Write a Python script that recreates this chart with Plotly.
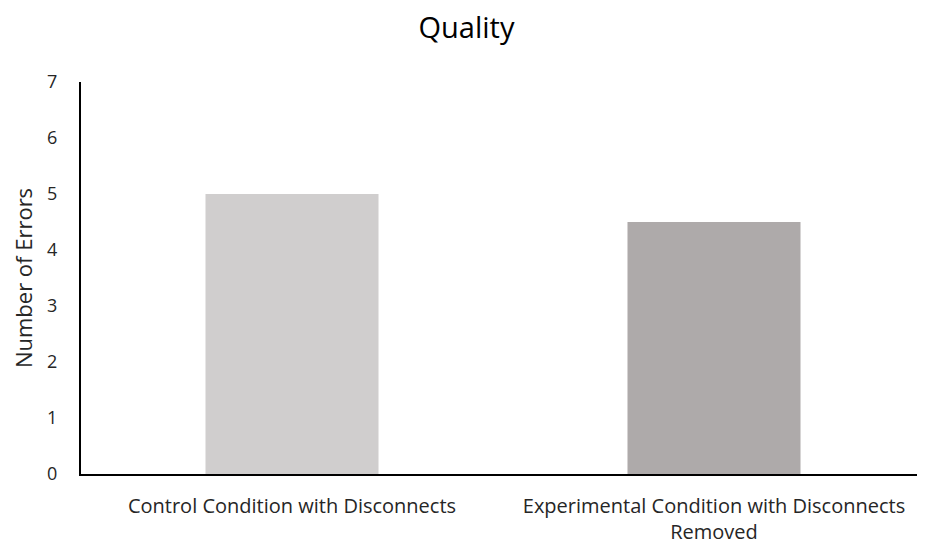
import plotly.graph_objects as go

categories = ["Control Condition with Disconnects", "Experimental Condition with Disconnects<br>Removed"]
values = [5.0, 4.5]
colors = ["#D0CECE", "#AEAAAA"]
y_ticks = [0, 1, 2, 3, 4, 5, 6, 7]

fig = go.Figure()
fig.add_trace(go.Bar(x=categories, y=values, marker=dict(color=colors, line=dict(width=0)), width=0.41))

font_family = "Open Sans, Liberation Sans, sans-serif"
fig.update_layout(
    width=917, height=536,
    margin=dict(l=73, r=0, t=74, b=70, autoexpand=False),
    paper_bgcolor="white", plot_bgcolor="white",
    title=dict(text="Quality", x=0.5, xanchor="center", y=0.963, yanchor="middle",
               font=dict(family=font_family, size=29, color="#000000")),
    showlegend=False,
    font=dict(family=font_family, color="#404040"),
)
fig.update_xaxes(showline=True, linecolor="#000000", linewidth=2, showgrid=False, automargin=False,
                 ticks="", tickfont=dict(size=20, color="#262626"), ticklabelstandoff=13)
fig.update_yaxes(range=[0, 7], tickvals=y_ticks, showline=True, linecolor="#000000", linewidth=2,
                 showgrid=False, zeroline=False, ticks="", tickfont=dict(size=18, color="#262626"),
                 ticklabelstandoff=18, automargin=False,
                 title=dict(text="Number of Errors", font=dict(size=22, color="#262626"), standoff=15))

fig.write_html("out.html")
